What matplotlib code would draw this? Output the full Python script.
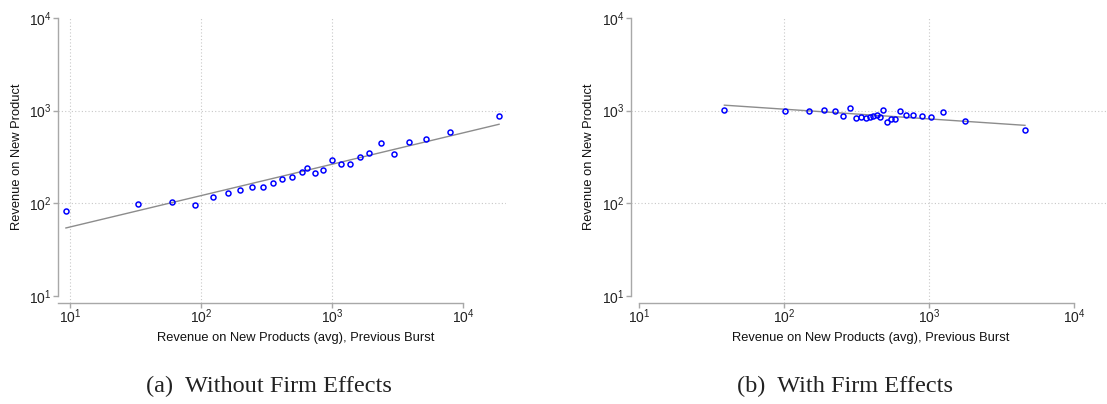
import numpy as np
import matplotlib.pyplot as plt
from matplotlib.ticker import FixedLocator, FuncFormatter, NullLocator

# panel (a): without firm effects
prev_a = [9.3, 33.3, 60.4, 90, 123.6, 161.8, 199.6, 246.6, 299, 354.6, 415, 492, 590,
          644, 741, 859, 1000, 1172, 1381, 1637, 1916, 2364, 2972, 3846, 5188, 7998, 18840]
rev_a = [81.7, 97.3, 103, 96.4, 116.7, 127.9, 137.8, 149.8, 151, 164, 184, 193.5, 219,
         240, 214, 230.5, 296, 265.6, 267.8, 316, 349, 444, 343.5, 456, 499, 594, 877]
fit_a = (1.406, 0.3385)  # log10 intercept, slope

# panel (b): with firm effects
prev_b = [38.8, 101, 148.6, 189.6, 223.4, 256.3, 283.7, 313.9, 341.6, 365.6, 389.9, 413.3,
          437.7, 456.9, 479, 510.5, 544.3, 583, 628, 690.6, 775.9, 895.5, 1038, 1250, 1763, 4592]
rev_b = [1011, 986, 986, 1011, 986, 877, 1081, 828, 863, 835, 857, 877,
         907, 857, 1018, 755, 814, 822, 993, 900, 907, 877, 849, 977, 774, 614]
fit_b = (3.226, -0.105)

xlabel = "Revenue on New Products (avg), Previous Burst"
ylabel = "Revenue on New Product"
captions = ["(a)  Without Firm Effects", "(b)  With Firm Effects"]

W, H = 1107, 404
fig = plt.figure(figsize=(W / 100, H / 100), dpi=100)
sans = ['Liberation Sans Narrow', 'Liberation Sans', 'DejaVu Sans']
plt.rcParams['mathtext.fontset'] = 'custom'
plt.rcParams['mathtext.rm'] = 'Liberation Sans'
plt.rcParams['mathtext.it'] = 'Liberation Sans'

def px_axes(l, r, t, b):
    return fig.add_axes([l / W, 1 - b / H, (r - l) / W, (b - t) / H])

def draw(ax, x, y, fit, xlim, xgrid, ylabel_x, xlabel_cx, cap_cx, cap):
    ax.set_xscale('log')
    ax.set_yscale('log')
    ax.set_xlim(*xlim)
    ax.set_ylim(10 ** 0.924, 1e4)
    for g in xgrid:
        ax.axvline(g, color='#c8c8c8', lw=0.8, ls=(0, (1, 2)), zorder=0)
    for g in [1e2, 1e3]:
        ax.axhline(g, color='#c8c8c8', lw=0.8, ls=(0, (1, 2)), zorder=0)
    lx = np.log10([min(x), max(x)])
    ax.plot(10 ** lx, 10 ** (fit[0] + fit[1] * lx), color='#8c8c8c', lw=1.0, zorder=2)
    ax.plot(x, y, 'o', ms=3.6, mfc='none', mec='#0000ff', mew=1.1, zorder=3, clip_on=False)
    for s in ['top', 'right']:
        ax.spines[s].set_visible(False)
    for s in ['left', 'bottom']:
        ax.spines[s].set_color('#a8a8a8')
        ax.spines[s].set_linewidth(1.0)
    ax.spines['left'].set_bounds(10, 1e4)
    ax.spines['bottom'].set_position(('data', 10 ** 0.924))
    ticks = [10, 100, 1000, 10000]
    fmt = FuncFormatter(lambda v, p: r'$10^{%d}$' % round(np.log10(v)))
    ax.xaxis.set_major_locator(FixedLocator(ticks))
    ax.yaxis.set_major_locator(FixedLocator(ticks))
    ax.xaxis.set_minor_locator(NullLocator())
    ax.yaxis.set_minor_locator(NullLocator())
    ax.xaxis.set_major_formatter(fmt)
    ax.yaxis.set_major_formatter(fmt)
    ax.tick_params(axis='both', length=3.5, width=1.0, color='#a8a8a8', labelsize=10,
                   labelcolor='#222222', pad=1)
    ax.tick_params(axis='x', pad=0)
    fig.text(ylabel_x / W, 1 - 157 / H, ylabel, rotation=90, ha='center', va='center',
             fontsize=9.3, family=sans, color='#111111')
    fig.text(xlabel_cx / W, 1 - 338 / H, xlabel, ha='center', va='center',
             fontsize=9.3, family=sans, color='#111111')
    fig.text(cap_cx / W, 1 - 386 / H, cap, ha='center', va='center',
             fontsize=17.5, family=['Liberation Serif', 'DejaVu Serif'], color='#222222')

ax1 = px_axes(58, 506, 18, 303)
draw(ax1, prev_a, rev_a, fit_a, (10 ** 0.908, 10 ** 4.328), [10, 100, 1000], 17, 296, 269, captions[0])
ax1.spines['bottom'].set_bounds(10 ** 0.908, 1e4)

ax2 = px_axes(631, 1107, 18, 303)
draw(ax2, prev_b, rev_b, fit_b, (10 ** 0.945, 10 ** 4.2276), [100, 1000], 589, 871, 845, captions[1])
ax2.spines['bottom'].set_bounds(10, 1e4)

fig.savefig('out.png', dpi=100)
